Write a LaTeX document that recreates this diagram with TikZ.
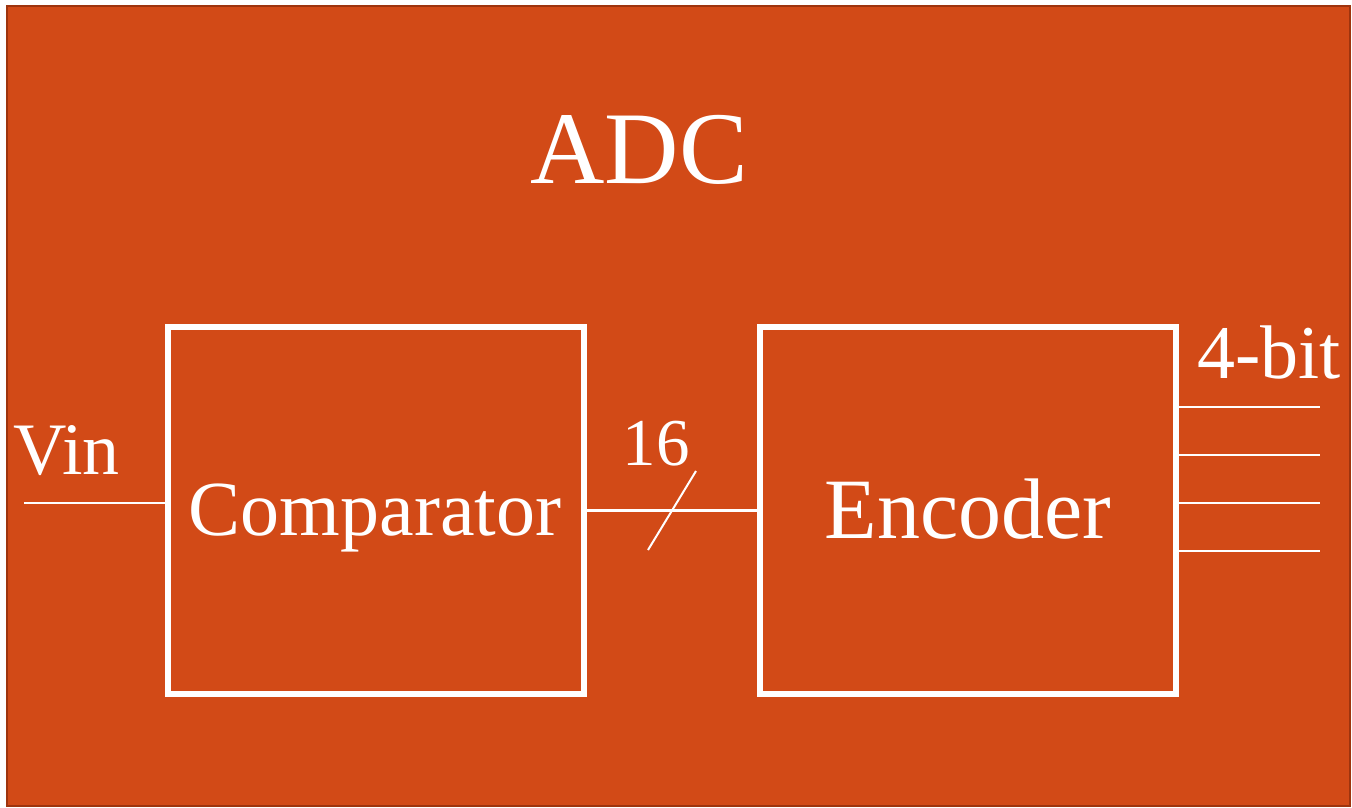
\documentclass[tikz,border=0pt]{standalone}
\usepackage{fontspec}
\setmainfont{Liberation Serif}
\definecolor{adcfill}{RGB}{210,74,23}
\definecolor{adcedge}{RGB}{158,52,14}
\begin{document}
\begin{tikzpicture}[x=1pt,y=-1pt,
  block/.style={draw=white, line width=6pt, minimum width=416pt, minimum height=367pt, inner sep=0pt},
  wire/.style={draw=white, line width=2pt},
  txt/.style={text=white, inner sep=0pt, anchor=base}]
  \useasboundingbox (0,0) rectangle (1352,807);
  % enclosing ADC panel
  \filldraw[fill=adcfill, draw=adcedge, line width=2pt] (7,6) rectangle (1350,806);
  \node[txt, font=\fontsize{103}{110}\selectfont] (title) at (639,183) {ADC};

  % functional blocks
  \node[block] (comp) at (376,510.5) {};
  \node[block] (enc) at (968,510.5) {};
  \node[txt, font=\fontsize{78}{84}\selectfont] (compText) at (375,535) {Comparator};
  \node[txt, font=\fontsize{86}{92}\selectfont] (encText) at (968,538) {Encoder};

  % analog input
  \coordinate (vinStart) at (24,503);
  \node[txt, anchor=base west, font=\fontsize{74}{80}\selectfont] (vinText) at (13,474) {Vin};
  \draw[wire] (vinStart) -- (vinStart -| comp.west);

  % 16-line bus between the blocks
  \draw[white, line width=2.5pt] (comp.east) -- (enc.west);
  \coordinate (slashLow) at (648,550);
  \coordinate (slashHigh) at (696,471);
  \draw[wire] (slashLow) -- (slashHigh);
  \node[txt, font=\fontsize{67}{72}\selectfont] (busText) at (656,465) {16};

  % 4-bit digital output
  \node[txt, font=\fontsize{76}{82}\selectfont] (outText) at (1269,378) {4-bit};
  \foreach \yy [count=\i] in {407,455,503,551} {
    \coordinate (out\i) at (1320,\yy);
    \draw[wire] (enc.east |- out\i) -- (out\i);
  }
\end{tikzpicture}
\end{document}
